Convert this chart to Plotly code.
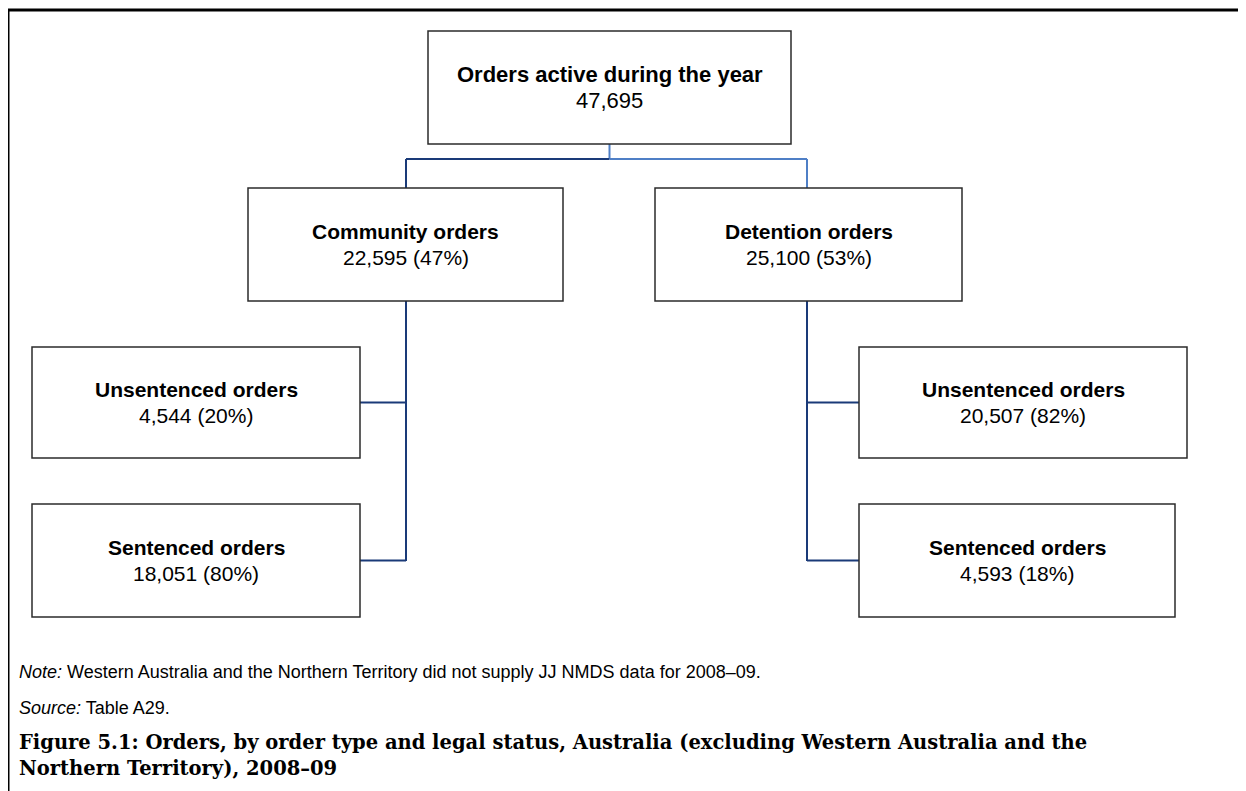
import plotly.graph_objects as go

# ---- data ----
node_ids = ["total", "community", "detention", "comm_unsent", "comm_sent", "det_unsent", "det_sent"]
node_titles = ["Orders active during the year", "Community orders", "Detention orders",
               "Unsentenced orders", "Sentenced orders", "Unsentenced orders", "Sentenced orders"]
node_counts = [47695, 22595, 25100, 4544, 18051, 20507, 4593]
node_pcts = [None, 47, 53, 20, 80, 82, 18]
parents = [None, "total", "total", "community", "community", "detention", "detention"]

note_text = "<i>Note:</i> Western Australia and the Northern Territory did not supply JJ NMDS data for 2008–09."
source_text = "<i>Source:</i> Table A29."
caption_lines = ["Figure 5.1: Orders, by order type and legal status, Australia (excluding Western Australia and the",
                 "Northern Territory), 2008–09"]

# ---- layout (pixel geometry of the diagram) ----
W, H = 1246, 791
OFF = 8  # browser body margin
box_geom = {  # x0, x1, y0, y1
    "total": (428, 791, 31, 144),
    "community": (248, 563, 188, 301),
    "detention": (655, 962, 188, 301),
    "comm_unsent": (32, 360, 347, 458),
    "comm_sent": (32, 360, 504, 617),
    "det_unsent": (859, 1187, 347, 458),
    "det_sent": (859, 1175, 504, 617),
}
font_size = {"total": 22}
NAVY = "#1a3a78"
LIGHT = "#4f7fc6"
FONT = "Liberation Sans, Arial, sans-serif"
TOP_BAR_Y = 159
spine_x = {"community": 406, "detention": 807}

fig = go.Figure()
shapes = []
annotations = []

# frame (top and left rule)
shapes.append(dict(type="line", xref="x", yref="y", x0=8, x1=W + 5, y0=10, y1=10,
                   line=dict(color="black", width=3)))
shapes.append(dict(type="line", xref="x", yref="y", x0=8, x1=8, y0=10, y1=H + 5,
                   line=dict(color="black", width=3)))

# boxes and labels
for nid, title, cnt, pct in zip(node_ids, node_titles, node_counts, node_pcts):
    x0, x1, y0, y1 = box_geom[nid]
    shapes.append(dict(type="rect", xref="x", yref="y", x0=x0, x1=x1, y0=y0, y1=y1,
                       line=dict(color="#2b2b2b", width=1.5), fillcolor="white", layer="above"))
    cx = (x0 + x1) / 2
    cy = (y0 + y1) / 2
    fs = font_size.get(nid, 21)
    val = f"{cnt:,}" if pct is None else f"{cnt:,} ({pct}%)"
    annotations.append(dict(x=cx, y=cy - 13, xref="x", yref="y", text=f"<b>{title}</b>",
                            showarrow=False, xanchor="center", yanchor="middle",
                            font=dict(family=FONT, size=fs, color="black")))
    annotations.append(dict(x=cx, y=cy + 13, xref="x", yref="y", text=val,
                            showarrow=False, xanchor="center", yanchor="middle",
                            font=dict(family=FONT, size=fs, color="black")))

# connectors
def seg(xs, ys, color):
    fig.add_trace(go.Scatter(x=xs, y=ys, mode="lines", line=dict(color=color, width=2),
                             hoverinfo="skip", showlegend=False))

def cx_of(n):
    g = box_geom[n]
    return (g[0] + g[1]) / 2

# top level: total -> community / detention
tx = cx_of("total")
tb = box_geom["total"][3]
lx, rx = spine_x["community"], spine_x["detention"]
seg([tx, tx], [tb, TOP_BAR_Y], LIGHT)
seg([lx, tx], [TOP_BAR_Y, TOP_BAR_Y], NAVY)
seg([tx, rx], [TOP_BAR_Y, TOP_BAR_Y], LIGHT)
seg([lx, lx], [TOP_BAR_Y, box_geom["community"][2]], NAVY)
seg([rx, rx], [TOP_BAR_Y, box_geom["detention"][2]], LIGHT)

# second level
for parent in ["community", "detention"]:
    kids = [n for n, p in zip(node_ids, parents) if p == parent]
    sx = spine_x[parent]
    kid_y = [(box_geom[k][2] + box_geom[k][3]) / 2 for k in kids]
    seg([sx, sx], [box_geom[parent][3], max(kid_y) + 0.5], NAVY)
    for k, ky in zip(kids, kid_y):
        edge = box_geom[k][1] if box_geom[k][1] < sx else box_geom[k][0]
        seg([sx, edge], [ky, ky], NAVY)

# footer
annotations.append(dict(x=17, y=672, xref="x", yref="y", text=note_text, showarrow=False,
                        xanchor="left", yanchor="middle",
                        font=dict(family=FONT, size=18, color="black")))
annotations.append(dict(x=17, y=708, xref="x", yref="y", text=source_text, showarrow=False,
                        xanchor="left", yanchor="middle",
                        font=dict(family=FONT, size=18, color="black")))
for i, line in enumerate(caption_lines):
    annotations.append(dict(x=17, y=742 + 26 * i, xref="x", yref="y", text=f"<b>{line}</b>",
                            showarrow=False, xanchor="left", yanchor="middle",
                            font=dict(family="DejaVu Serif, serif", size=19.5, color="black")))

fig.update_layout(
    width=W - OFF, height=H - OFF,
    margin=dict(l=0, r=0, t=0, b=0),
    paper_bgcolor="white", plot_bgcolor="white",
    xaxis=dict(range=[OFF, W], visible=False, fixedrange=True),
    yaxis=dict(range=[H, OFF], visible=False, fixedrange=True),
    shapes=shapes, annotations=annotations,
)
fig.write_html("out.html", config={"displayModeBar": False})
